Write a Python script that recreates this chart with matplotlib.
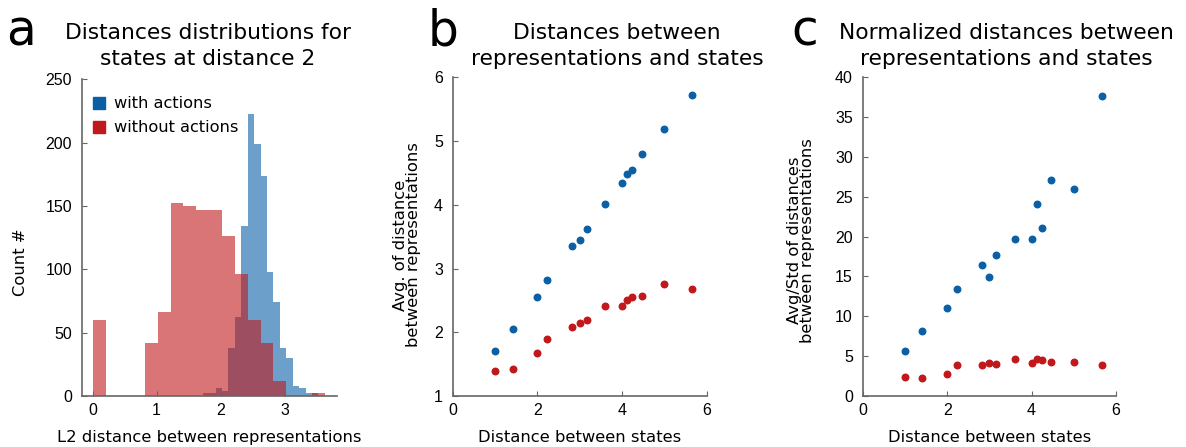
import numpy as np
import matplotlib
matplotlib.use("Agg")
import matplotlib.pyplot as plt
from matplotlib.patches import Patch

BLUE = "#0b5fa5"
RED = "#c1181c"
SPINE = "#666666"

# histogram of pairwise distances for states two steps apart
red_edges = np.linspace(0.0125, 3.6305, 19)
red_counts = [60, 0, 0, 0, 42, 66, 152, 150, 147, 147, 126, 96, 60, 42, 12, 0, 0, 2]
blue_edges = np.linspace(1.7210, 3.5300, 19)
blue_counts = [2, 2, 6, 4, 38, 62, 134, 223, 199, 174, 98, 74, 38, 30, 8, 6, 2, 2]

# state distance vs representation distance
state_dist = [1.0, 1.414, 2.0, 2.236, 2.828, 3.0, 3.162, 3.606, 4.0, 4.123, 4.243, 4.472, 5.0, 5.657]
avg_with = [1.70, 2.05, 2.55, 2.82, 3.36, 3.44, 3.62, 4.02, 4.34, 4.48, 4.55, 4.79, 5.19, 5.72]
avg_without = [1.39, 1.43, 1.68, 1.89, 2.08, 2.14, 2.19, 2.41, 2.41, 2.51, 2.56, 2.57, 2.76, 2.68]
norm_with = [5.6, 8.2, 11.1, 13.4, 16.4, 14.9, 17.7, 19.7, 19.7, 24.1, 21.1, 27.1, 26.0, 37.7]
norm_without = [2.4, 2.3, 2.7, 3.9, 3.9, 4.1, 4.0, 4.7, 4.2, 4.7, 4.5, 4.3, 4.3, 3.9]

TICK_FONT = "Liberation Sans"
LABEL_FONT = "DejaVu Sans"
LABEL_SIZE = 11.8

W, H = 1186, 447


def px_axes(left, top, right, bottom):
    return [left / W, 1 - bottom / H, (right - left) / W, (bottom - top) / H]


def style(ax):
    for side in ("top", "right"):
        ax.spines[side].set_visible(False)
    for side in ("left", "bottom"):
        ax.spines[side].set_color(SPINE)
        ax.spines[side].set_linewidth(1.2)
    ax.tick_params(direction="in", length=3.5, width=0.8, color=SPINE,
                   labelsize=11.5)
    ax.tick_params(axis="x", pad=5)
    ax.tick_params(axis="y", pad=7)
    for lab in ax.get_xticklabels() + ax.get_yticklabels():
        lab.set_fontfamily(TICK_FONT)


def ylabel(ax, text, x, y):
    ax.set_ylabel(text, fontsize=LABEL_SIZE, family=LABEL_FONT, linespacing=0.85)
    ax.yaxis.set_label_coords(x, y)


fig = plt.figure(figsize=(W / 100, H / 100), dpi=100)

# panel a
ax_a = fig.add_axes(px_axes(81.7, 79.3, 337, 396))
ax_a.stairs(blue_counts, blue_edges, fill=True, color=BLUE, alpha=0.6, lw=0)
ax_a.stairs(red_counts, red_edges, fill=True, color=RED, alpha=0.6, lw=0)
ax_a.set_xlim(-0.17, 3.82)
ax_a.set_ylim(0, 250)
ax_a.set_xticks([0, 1, 2, 3])
ax_a.set_yticks([0, 50, 100, 150, 200, 250])
style(ax_a)
ax_a.set_xlabel("L2 distance between representations", fontsize=LABEL_SIZE,
                family=LABEL_FONT, labelpad=9)
ylabel(ax_a, "Count #", -0.21, 0.423)
ax_a.legend(handles=[Patch(color=BLUE, label="with actions"),
                     Patch(color=RED, label="without actions")],
            loc="upper left", bbox_to_anchor=(0.0, 0.982), frameon=False,
            fontsize=11.7, handlelength=0.75, handleheight=0.75,
            handletextpad=0.55, labelspacing=0.55, borderaxespad=0.3)

# panel b
ax_b = fig.add_axes(px_axes(452.7, 77.3, 706.7, 396))
ax_b.scatter(state_dist, avg_with, s=22, color=BLUE, zorder=3)
ax_b.scatter(state_dist, avg_without, s=22, color=RED, zorder=3)
ax_b.set_xlim(0, 6)
ax_b.set_ylim(1, 6)
ax_b.set_xticks([0, 2, 4, 6])
ax_b.set_yticks([1, 2, 3, 4, 5, 6])
style(ax_b)
ax_b.set_xlabel("Distance between states", fontsize=LABEL_SIZE,
                family=LABEL_FONT, labelpad=9)
ylabel(ax_b, "Avg. of distance\nbetween representations", -0.125, 0.474)

# panel c
ax_c = fig.add_axes(px_axes(862.7, 77.3, 1116, 396))
ax_c.scatter(state_dist, norm_with, s=22, color=BLUE, zorder=3)
ax_c.scatter(state_dist, norm_without, s=22, color=RED, zorder=3)
ax_c.set_xlim(0, 6)
ax_c.set_ylim(0, 40)
ax_c.set_xticks([0, 2, 4, 6])
ax_c.set_yticks(range(0, 41, 5))
style(ax_c)
ax_c.set_xlabel("Distance between states", fontsize=LABEL_SIZE,
                family=LABEL_FONT, labelpad=9)
ylabel(ax_c, "Avg/Std of distances\nbetween representations", -0.188, 0.488)

# titles and panel letters
titles = [
    (208, "Distances distributions for\nstates at distance 2"),
    (617, "Distances between\nrepresentations and states"),
    (1006, "Normalized distances between\nrepresentations and states"),
]
for cx, txt in titles:
    fig.text(cx / W, 1 - 23 / H, txt, ha="center", va="top", fontsize=15.7,
             family=LABEL_FONT, linespacing=1.4)

for x, letter in [(6, "a"), (428, "b"), (791, "c")]:
    fig.text(x / W, 1 - 45 / H, letter, ha="left", va="baseline",
             fontsize=35, family=LABEL_FONT)

fig.savefig("out.png", dpi=100)
